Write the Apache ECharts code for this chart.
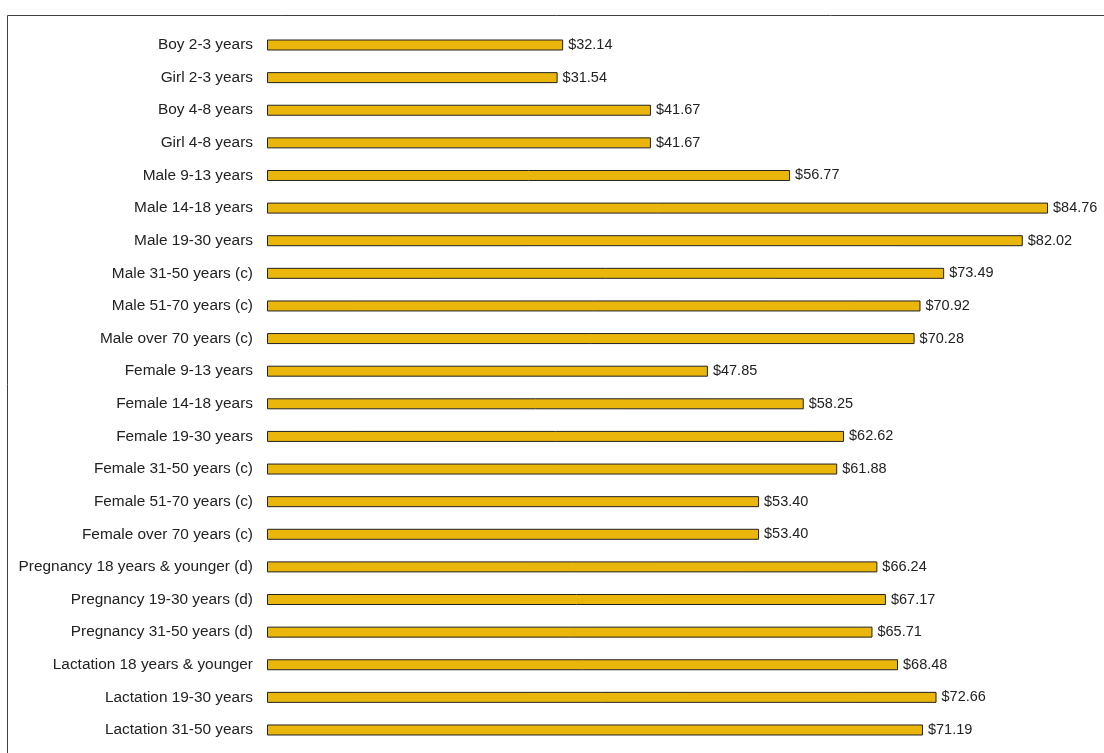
<!DOCTYPE html>
<html>
<head>
<meta charset="utf-8">
<script src="https://cdn.jsdelivr.net/npm/echarts@6/dist/echarts.min.js"></script>
<style>
html,body{margin:0;padding:0;background:#fff;}
#chart{width:1104px;height:753px;}
</style>
</head>
<body>
<div id="chart"></div>
<script>
const categories = [
  "Boy 2-3 years","Girl 2-3 years","Boy 4-8 years","Girl 4-8 years",
  "Male 9-13 years","Male 14-18 years","Male 19-30 years","Male 31-50 years (c)",
  "Male 51-70 years (c)","Male over 70 years (c)","Female 9-13 years","Female 14-18 years",
  "Female 19-30 years","Female 31-50 years (c)","Female 51-70 years (c)","Female over 70 years (c)",
  "Pregnancy 18 years & younger (d)","Pregnancy 19-30 years (d)","Pregnancy 31-50 years (d)",
  "Lactation 18 years & younger","Lactation 19-30 years","Lactation 31-50 years"
];
const costs = [32.14,31.54,41.67,41.67,56.77,84.76,82.02,73.49,70.92,70.28,47.85,58.25,62.62,61.88,53.40,53.40,66.24,67.17,65.71,68.48,72.66,71.19];

const chart = echarts.init(document.getElementById('chart'));
chart.setOption({
  animation: false,
  backgroundColor: '#fff',
  graphic: [{
    type: 'rect',
    shape: {x: 7.5, y: 15.5, width: 1300, height: 900},
    style: {fill: 'none', stroke: '#404040', lineWidth: 1},
    silent: true, z: -1
  }],
  grid: {left: 267, top: 28.7, width: 829.3, bottom: 6.7, containLabel: false},
  xAxis: {
    type: 'value', min: 0, max: 90, show: false
  },
  yAxis: {
    type: 'category', data: categories, inverse: true,
    axisLine: {show: false}, axisTick: {show: false},
    axisLabel: {margin: 14, color: '#222', fontFamily: 'Liberation Sans, Arial, sans-serif', fontSize: 15.4}
  },
  series: [{
    type: 'bar', data: costs, barWidth: 11,
    itemStyle: {color: '#EAB60B', borderColor: '#222', borderWidth: 1},
    label: {
      show: true, position: 'right', distance: 5,
      color: '#222', fontFamily: 'Liberation Sans, Arial, sans-serif', fontSize: 14.5,
      formatter: p => '$' + p.value.toFixed(2)
    }
  }]
});
</script>
</body>
</html>
